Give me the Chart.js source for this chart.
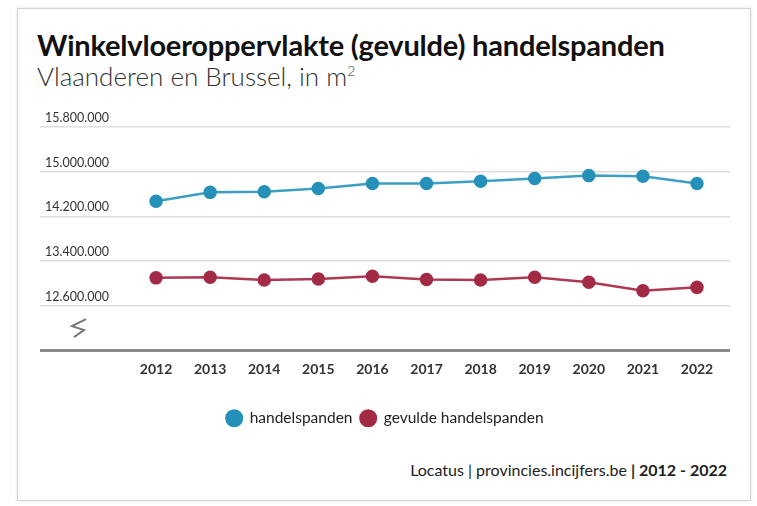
<!DOCTYPE html>
<html>
<head>
<meta charset="utf-8">
<script src="https://cdn.jsdelivr.net/npm/chart.js@4"></script>
<style>
  body { margin: 0; background: #fff; font-family: Lato, "Open Sans", sans-serif; }
  #card {
    position: absolute; left: 17px; top: 8px; width: 732px; height: 491px;
    border: 1px solid #d4d4d4; box-shadow: 0 0 3px rgba(0,0,0,0.12); background: #fff;
  }
  #title { position: absolute; left: 37px; top: 27px; font-size: 29px; font-weight: 700; color: #111; letter-spacing: -0.2px; white-space: nowrap; }
  #subtitle { position: absolute; left: 37px; top: 60px; font-size: 26px; font-weight: 300; color: #333; white-space: nowrap; }
  #subtitle sup { font-size: 14px; }
  #source { position: absolute; right: 30px; top: 460px; font-size: 16px; color: #222; white-space: nowrap; }
  #wrap { position: absolute; left: 0; top: 95px; width: 757px; height: 341px; }
</style>
</head>
<body>
<div id="card"></div>
<div id="title">Winkelvloeroppervlakte (gevulde) handelspanden</div>
<div id="subtitle">Vlaanderen en Brussel, in m<sup>2</sup></div>
<div id="source">Locatus | provincies.incijfers.be <b>| 2012 - 2022</b></div>
<div id="wrap"><canvas id="chart"></canvas></div>
<script>
// Gegevens
const jaren = [2012, 2013, 2014, 2015, 2016, 2017, 2018, 2019, 2020, 2021, 2022];
const handelspanden = [14470000, 14630000, 14640000, 14700000, 14790000, 14790000, 14830000, 14880000, 14930000, 14920000, 14790000];
const gevuldeHandelspanden = [13100000, 13110000, 13060000, 13080000, 13130000, 13070000, 13060000, 13110000, 13020000, 12870000, 12930000];
const yTicks = [11800000, 12600000, 13400000, 14200000, 15000000, 15800000];

function formatNum(v) {
  return String(v).replace(/\B(?=(\d{3})+(?!\d))/g, '.');
}

// zigzag (asbreuk) onderaan de y-as
const breakPlugin = {
  id: 'asbreuk',
  afterDraw(chart) {
    const c = chart.ctx;
    const y = chart.scales.y.getPixelForValue(12200000);
    const x = chart.chartArea.left + 38;
    c.save();
    c.strokeStyle = '#777';
    c.lineWidth = 2;
    c.beginPath();
    c.moveTo(x + 8, y - 9);
    c.lineTo(x - 6, y - 2);
    c.lineTo(x + 6, y + 2);
    c.lineTo(x - 4, y + 9);
    c.stroke();
    c.restore();
  }
};

const ctx = document.getElementById('chart').getContext('2d');
const chart = new Chart(ctx, {
  type: 'line',
  data: {
    datasets: [{
      label: 'handelspanden',
      data: jaren.map((j, i) => ({ x: j, y: handelspanden[i] })),
      borderColor: '#3d9fc4',
      backgroundColor: '#1e98d2',
      pointBackgroundColor: '#2590b8',
      pointBorderColor: '#2590b8',
      borderWidth: 2.5,
      pointRadius: 5.5
    }, {
      label: 'gevulde handelspanden',
      data: jaren.map((j, i) => ({ x: j, y: gevuldeHandelspanden[i] })),
      borderColor: '#ad3a52',
      backgroundColor: '#b02a44',
      pointBackgroundColor: '#a32a45',
      pointBorderColor: '#a32a45',
      borderWidth: 2.5,
      pointRadius: 5.5
    }]
  },
  options: {
    responsive: true,
    maintainAspectRatio: false,
    animation: false,
    layout: { padding: { left: 40, right: 27, top: 32, bottom: 0 } },
    scales: {
      x: {
        type: 'linear',
        min: 2009.855,
        max: 2022.61,
        afterBuildTicks: axis => { axis.ticks = jaren.map(v => ({ value: v })); },
        afterFit: s => { s.height = 52; },
        grid: { display: false, drawTicks: false },
        border: { display: false },
        ticks: {
          padding: 11,
          color: '#333',
          font: { family: 'Lato', size: 14, weight: 'bold' },
          callback: v => String(v)
        }
      },
      y: {
        min: 11800000,
        max: 15800000,
        afterBuildTicks: axis => { axis.ticks = yTicks.map(v => ({ value: v })); },
        afterFit: s => { s.width = 0; },
        border: { display: false },
        grid: {
          drawTicks: false,
          color: c => c.tick && c.tick.value === 11800000 ? '#8a8a8a' : '#dedede',
          lineWidth: c => c.tick && c.tick.value === 11800000 ? 3 : 1.5
        },
        ticks: {
          mirror: true,
          padding: 5,
          labelOffset: -9,
          color: '#333',
          font: { family: 'Lato', size: 12.5 },
          callback: v => v === 11800000 ? '' : formatNum(v)
        }
      }
    },
    plugins: {
      legend: {
        position: 'bottom',
        labels: {
          usePointStyle: true,
          pointStyle: 'circle',
          boxWidth: 16,
          boxHeight: 11,
          padding: 8,
          color: '#222',
          font: { family: 'Lato', size: 15.5 }
        }
      },
      tooltip: { enabled: false }
    }
  },
  plugins: [breakPlugin]
});
</script>
</body>
</html>
